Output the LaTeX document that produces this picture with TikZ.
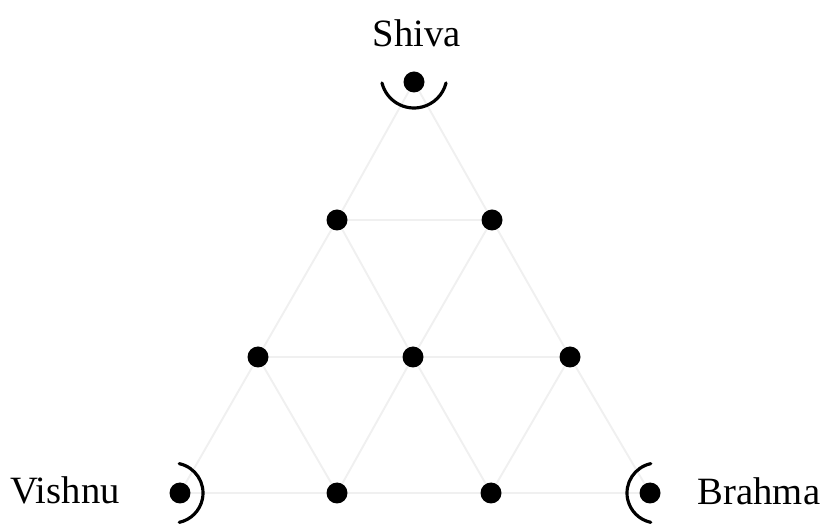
\documentclass[tikz,border=0pt]{standalone}
\usepackage{fontspec}
\setmainfont{Liberation Serif}
\usepackage{tikz}

\begin{document}
\begin{tikzpicture}[
    x=0.02cm, y=0.02cm,
    dot/.style={circle, fill=black, inner sep=0pt, minimum size=0.42cm},
    godname/.style={anchor=base, inner sep=0pt, font=\fontsize{22}{26}\selectfont},
    grid/.style={draw=black!6, line width=1.1pt},
    halo/.style={line width=1.8pt, line cap=round}
]
\useasboundingbox (0,0) rectangle (825,527);

% the ten points
\node (d1)  [dot] at (414,445) {};
\node (d21) [dot] at (337,307) {};
\node (d22) [dot] at (492,307) {};
\node (d31) [dot] at (258,170) {};
\node (d32) [dot] at (413,170) {};
\node (d33) [dot] at (570,170) {};
\node (d41) [dot] at (180,34) {};
\node (d42) [dot] at (337,34) {};
\node (d43) [dot] at (491,34) {};
\node (d44) [dot] at (650,34) {};

% names
\node (shiva)  [godname] at (417,480) {Shiva};
\node (vishnu) [godname] at (65,23)   {Vishnu};
\node (brahma) [godname] at (759,22)  {Brahma};

% faint grid
\draw[grid] (d1) -- (d21);
\draw[grid] (d1) -- (d22);
\draw[grid] (d21) -- (d22);
\draw[grid] (d21) -- (d31);
\draw[grid] (d21) -- (d32);
\draw[grid] (d22) -- (d32);
\draw[grid] (d22) -- (d33);
\draw[grid] (d31) -- (d32);
\draw[grid] (d32) -- (d33);
\draw[grid] (d31) -- (d41);
\draw[grid] (d31) -- (d42);
\draw[grid] (d32) -- (d42);
\draw[grid] (d32) -- (d43);
\draw[grid] (d33) -- (d43);
\draw[grid] (d33) -- (d44);
\draw[grid] (d41) -- (d42);
\draw[grid] (d42) -- (d43);
\draw[grid] (d43) -- (d44);

% arcs round the corners
\draw[halo] ([shift={(194:33)}]d1.center) ++(0,7) arc[start angle=194, end angle=346, radius=33];
\draw[halo] ([shift={(78:30)}]d41.center) ++(-7,0) arc[start angle=78, end angle=-78, radius=30];
\draw[halo] ([shift={(102:30)}]d44.center) ++(7,0) arc[start angle=102, end angle=258, radius=30];

\end{tikzpicture}
\end{document}
